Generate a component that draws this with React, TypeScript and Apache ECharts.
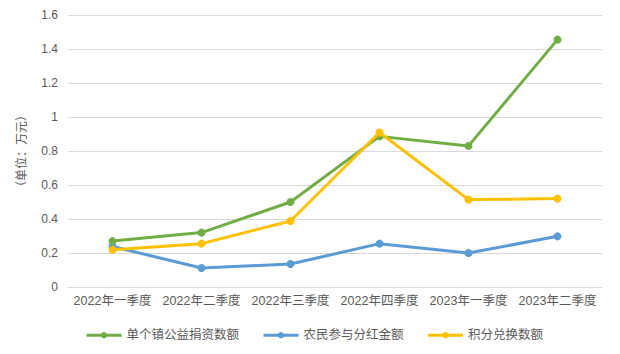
import React, { useEffect, useRef } from "react";
import * as echarts from "echarts";

const categories = ["2022年一季度", "2022年二季度", "2022年三季度", "2022年四季度", "2023年一季度", "2023年二季度"];
const seriesNames = ["单个镇公益捐资数额", "农民参与分红金额", "积分兑换数额"];
const greenValues = [0.27, 0.32, 0.5, 0.886, 0.83, 1.455];
const blueValues = [0.238, 0.112, 0.135, 0.255, 0.2, 0.298];
const yellowValues = [0.219, 0.255, 0.388, 0.909, 0.514, 0.52];
const colors = ["#70AD47", "#5B9BD5", "#FFC000"];

const FONT = "'Liberation Sans', 'Noto Sans CJK SC', sans-serif";

export default function App() {
  const ref = useRef<HTMLDivElement>(null);
  useEffect(() => {
    if (!ref.current) return;
    const chart = echarts.init(ref.current, null, { renderer: "svg" });
    const values = [greenValues, blueValues, yellowValues];
    chart.setOption({
      animation: false,
      backgroundColor: "#ffffff",
      textStyle: { fontFamily: FONT },
      grid: { left: 68, right: 18, top: 15, bottom: 67, containLabel: false },
      legend: {
        data: seriesNames,
        left: 80,
        top: 324,
        itemWidth: 35,
        itemHeight: 8,
        itemGap: 23,
        lineStyle: { width: 3 },
        textStyle: { color: "#595959", fontSize: 12.5, fontFamily: FONT },
      },
      xAxis: {
        type: "category",
        data: categories,
        boundaryGap: true,
        axisLine: { show: true, lineStyle: { color: "#D9D9D9", width: 1 } },
        axisTick: { show: false },
        axisLabel: { color: "#595959", fontSize: 12.5, margin: 8, fontFamily: FONT, interval: 0 },
      },
      yAxis: {
        type: "value",
        min: 0,
        max: 1.6,
        interval: 0.2,
        name: "（单位：万元）",
        nameLocation: "middle",
        nameRotate: 90,
        nameGap: 40,
        nameTextStyle: { color: "#595959", fontSize: 12, fontFamily: FONT },
        axisLine: { show: false },
        axisTick: { show: false },
        axisLabel: { color: "#595959", fontSize: 12, margin: 10, fontFamily: FONT },
        splitLine: { lineStyle: { color: "#D9D9D9", width: 1 } },
      },
      series: seriesNames.map((name, i) => ({
        name,
        type: "line",
        data: values[i],
        symbol: "circle",
        symbolSize: 8,
        color: colors[i],
        lineStyle: { width: 3, color: colors[i] },
        itemStyle: { color: colors[i] },
        z: i === 2 ? 3 : i === 0 ? 2 : 1,
      })),
    });
    return () => chart.dispose();
  }, []);
  return (
    <div
      ref={ref}
      style={{ position: "absolute", left: 0, top: 0, width: 620, height: 354 }}
    />
  );
}
